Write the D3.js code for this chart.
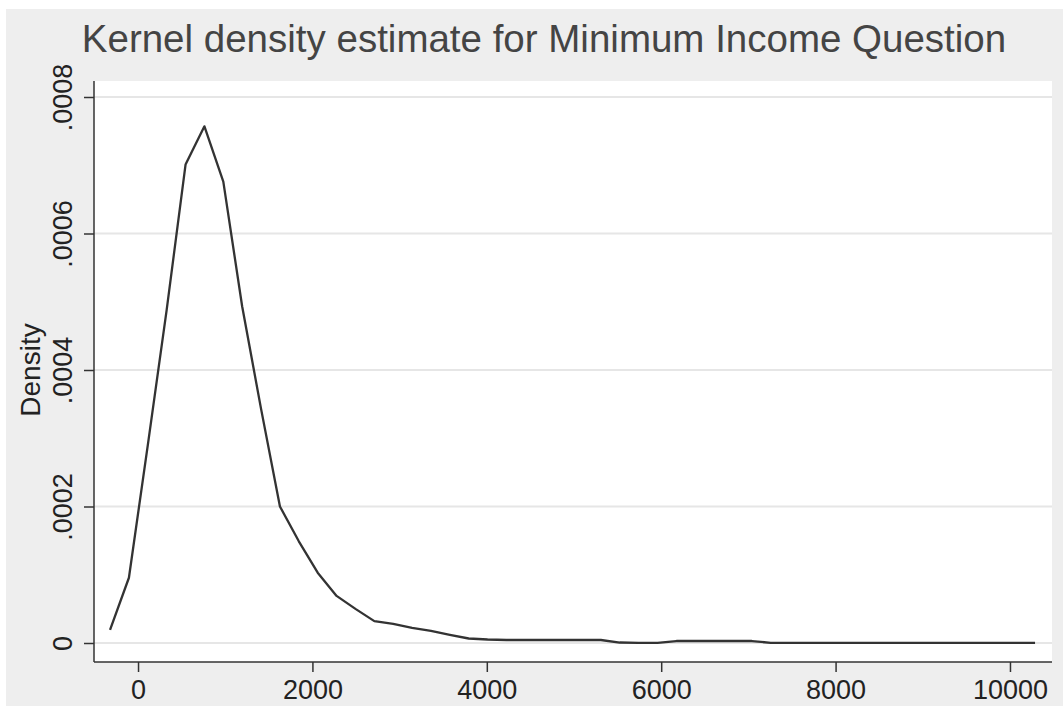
<!DOCTYPE html>
<html>
<head>
<meta charset="utf-8">
<script src="https://cdn.jsdelivr.net/npm/d3@7"></script>
<style>
  html, body { margin: 0; padding: 0; background: #fff; }
  svg { display: block; }
</style>
</head>
<body>
<div id="chart"></div>
<script>
/* kernel density estimate — Stata-style line chart, D3 v7 */

// evaluation points of the density
const incomeGrid = [
  -321, -104.5, 112, 328.5, 545, 761.5, 978, 1194.5, 1411, 1627.5,
  1844, 2060.5, 2277, 2493.5, 2710, 2926.5, 3143, 3359.5, 3576, 3792.5,
  4009, 4225.5, 4442, 4658.5, 4875, 5091.5, 5308, 5524.5, 5741, 5957.5,
  6174, 6390.5, 6607, 6823.5, 7040, 7256.5, 7473, 7689.5, 7906, 8122.5,
  8339, 8555.5, 8772, 8988.5, 9205, 9421.5, 9638, 9854.5, 10071, 10287.5,
];

const densityValues = [
  0.0000191, 0.0000956, 0.000290, 0.000488, 0.000701, 0.000757, 0.000676, 0.000493, 0.000343, 0.000200,
  0.000149, 0.000103, 0.000069, 0.000050, 0.000032, 0.000028, 0.000022, 0.0000176, 0.0000118, 0.0000066,
  0.0000051, 0.0000044, 0.0000044, 0.0000044, 0.0000044, 0.0000044, 0.0000044, 0.0000007, 0.0000003, 0.0000001,
  0.0000029, 0.0000029, 0.0000029, 0.0000029, 0.0000029, 0.0000003, 0.0000002, 0.0000002, 0.0000002, 0.0000002,
  0.0000002, 0.0000002, 0.0000002, 0.0000002, 0.0000002, 0.0000002, 0.0000002, 0.0000002, 0.0000002, 0.0000002,
];

const xTicks = [0, 2000, 4000, 6000, 8000, 10000];
const yTicks = [0, 0.0002, 0.0004, 0.0006, 0.0008];

const TITLE = 'Kernel density estimate for Minimum Income Question';
const Y_LABEL = 'Density';

const W = 1063, H = 706;
const FONT = '"Liberation Sans", Arial, Helvetica, sans-serif';
const P = { left: 94, right: 1052, top: 81, bottom: 662 };

const svg = d3.select('#chart')
  .append('svg')
  .attr('width', W)
  .attr('height', H)
  .style('font-family', FONT);

// outer grey panel
svg.append('rect')
  .attr('x', 6).attr('y', 9)
  .attr('width', W - 6).attr('height', H - 9)
  .attr('fill', '#eeeeee');

// white plot region
svg.append('rect')
  .attr('x', P.left).attr('y', P.top)
  .attr('width', P.right - P.left).attr('height', P.bottom - P.top)
  .attr('fill', '#ffffff');

const x = d3.scaleLinear()
  .domain([-505, 10482])
  .range([P.left, P.right]);

const y = d3.scaleLinear()
  .domain([0, 0.0008])
  .range([643, 97]);

// Grid lines
svg.append('g')
  .attr('stroke', '#e6e6e6')
  .attr('stroke-width', 2)
  .selectAll('line')
  .data(yTicks)
  .join('line')
  .attr('x1', P.left).attr('x2', P.right)
  .attr('y1', d => y(d)).attr('y2', d => y(d));

// Density curve
const pts = incomeGrid.map((v, i) => [v, densityValues[i]]);
svg.append('path')
  .datum(pts)
  .attr('fill', 'none')
  .attr('stroke', '#333')
  .attr('stroke-width', 2.3)
  .attr('stroke-linejoin', 'round')
  .attr('d', d3.line().x(d => x(d[0])).y(d => y(d[1])));

// Axes
const fmtY = d => d === 0 ? '0' : d3.format('.4f')(d).replace(/^0/, '');

svg.append('g')
  .attr('transform', `translate(0,${P.bottom})`)
  .call(d3.axisBottom(x).tickValues(xTicks).tickSize(10).tickSizeOuter(0).tickFormat(d => String(d)))
  .call(ax => ax.select('.domain').remove())
  .call(ax => ax.selectAll('line').attr('stroke', '#333').attr('stroke-width', 1.5))
  .call(ax => ax.selectAll('text')
    .attr('y', 37).attr('dy', 0)
    .attr('font-size', 27).attr('font-family', FONT).attr('fill', '#222'));

svg.append('g')
  .attr('transform', `translate(${P.left},0)`)
  .call(d3.axisLeft(y).tickValues(yTicks).tickSize(10).tickSizeOuter(0).tickFormat(fmtY))
  .call(ax => ax.select('.domain').remove())
  .call(ax => ax.selectAll('line').attr('stroke', '#333').attr('stroke-width', 1.5))
  .call(ax => ax.selectAll('text')
    .attr('x', 0).attr('dy', 0)
    .attr('text-anchor', 'middle')
    .attr('transform', 'translate(-22,0) rotate(-90)')
    .attr('font-size', 27).attr('font-family', FONT).attr('fill', '#222'));

// axis lines
svg.append('line')
  .attr('x1', P.left).attr('x2', P.left)
  .attr('y1', P.top).attr('y2', P.bottom)
  .attr('stroke', '#333').attr('stroke-width', 1.5);
svg.append('line')
  .attr('x1', P.left).attr('x2', P.right)
  .attr('y1', P.bottom).attr('y2', P.bottom)
  .attr('stroke', '#333').attr('stroke-width', 1.5);

// Y axis title
svg.append('text')
  .attr('transform', 'translate(40,370) rotate(-90)')
  .attr('text-anchor', 'middle')
  .attr('font-size', 28)
  .attr('fill', '#222')
  .text(Y_LABEL);

// Chart title
svg.append('text')
  .attr('x', 544).attr('y', 52)
  .attr('text-anchor', 'middle')
  .attr('font-size', 38.5)
  .attr('fill', '#444')
  .text(TITLE);
</script>
</body>
</html>
